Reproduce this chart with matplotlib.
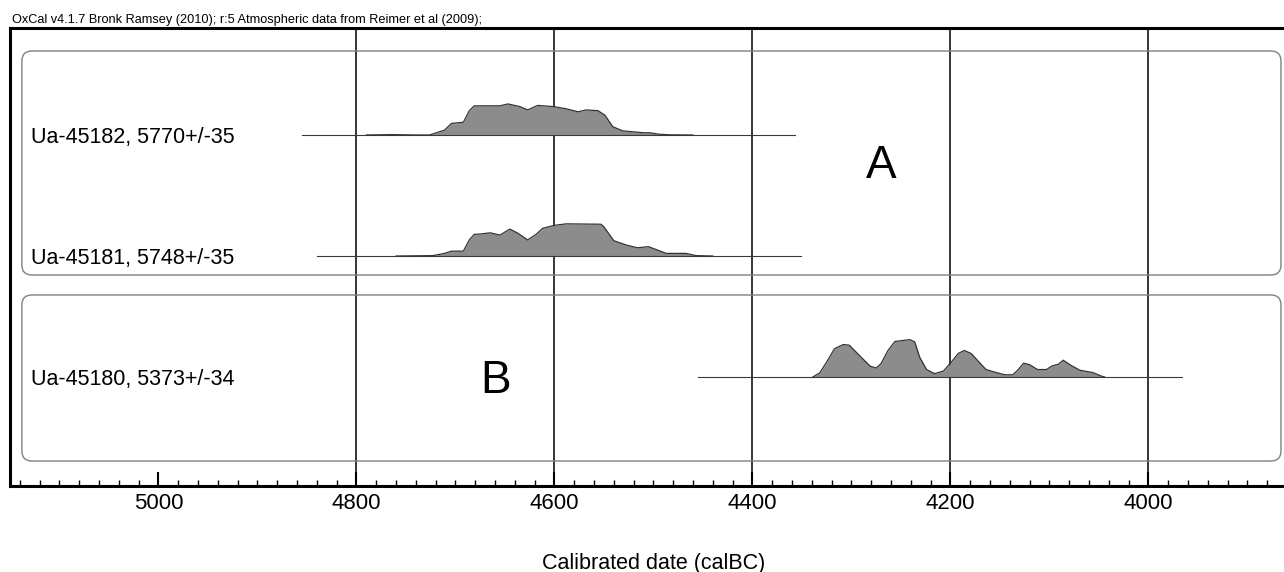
import numpy as np
import matplotlib
matplotlib.use('Agg')
import matplotlib.pyplot as plt
from matplotlib.patches import FancyBboxPatch
from matplotlib.ticker import FixedLocator, MultipleLocator

plt.rcParams['font.family'] = ['Liberation Sans', 'DejaVu Sans']

# sample names and calibrated ranges (calBC)
labels = ['Ua-45182, 5770+/-35', 'Ua-45181, 5748+/-35', 'Ua-45180, 5373+/-34']
range_start = [4855, 4840, 4455]
range_end = [4357, 4351, 3966]

# probability curves (relative density)
years_45182 = [4790, 4763, 4740, 4726, 4711, 4704, 4692, 4686, 4681, 4655, 4647, 4635, 4627,
               4617, 4601, 4588, 4576, 4568, 4556, 4549, 4541, 4531, 4510, 4504, 4494, 4484, 4460]
prob_45182 = [0.0, 0.01, 0.0, 0.0, 0.13, 0.31, 0.34, 0.65, 0.78, 0.78, 0.83, 0.76, 0.67,
              0.79, 0.76, 0.70, 0.62, 0.67, 0.65, 0.53, 0.22, 0.11, 0.06, 0.06, 0.02, 0.005, 0.0]

years_45181 = [4760, 4723, 4711, 4704, 4692, 4686, 4681, 4674, 4665, 4655, 4645, 4637, 4627, 4618,
               4612, 4600, 4588, 4553, 4550, 4540, 4527, 4516, 4505, 4493, 4487, 4467, 4457, 4440]
prob_45181 = [0.0, 0.01, 0.07, 0.13, 0.13, 0.43, 0.58, 0.59, 0.62, 0.56, 0.72, 0.61, 0.43, 0.59,
              0.74, 0.82, 0.86, 0.85, 0.78, 0.41, 0.29, 0.22, 0.25, 0.13, 0.07, 0.07, 0.01, 0.0]

years_45180 = [4339, 4332, 4325, 4317, 4308, 4302, 4292, 4281, 4275, 4270, 4263, 4256, 4241, 4236,
               4231, 4224, 4216, 4207, 4199, 4192, 4186, 4179, 4170, 4164, 4155, 4145, 4137, 4132,
               4126, 4120, 4112, 4103, 4097, 4091, 4086, 4078, 4069, 4056, 4047, 4044]
prob_45180 = [0.0, 0.11, 0.40, 0.76, 0.87, 0.85, 0.58, 0.29, 0.24, 0.36, 0.71, 0.95, 1.0, 0.94,
              0.53, 0.20, 0.09, 0.16, 0.40, 0.63, 0.71, 0.63, 0.37, 0.20, 0.13, 0.06, 0.06, 0.18,
              0.37, 0.33, 0.20, 0.20, 0.30, 0.34, 0.45, 0.31, 0.18, 0.12, 0.02, 0.0]

curves = [(years_45182, prob_45182), (years_45181, prob_45181), (years_45180, prob_45180)]

# groups (boxes) and the rows they hold
group_names = ['A', 'B']
group_rows = [[0, 1], [2]]

title = 'OxCal v4.1.7 Bronk Ramsey (2010); r:5 Atmospheric data from Reimer et al (2009);'

ROW_SCALE = 0.309

fig = plt.figure(figsize=(12.84, 5.72), dpi=100)
ax = fig.add_axes([10 / 1284, 86.3 / 572, 1286.8 / 1284, 457.7 / 572])

ax.set_xlim(5150, 3850)
ax.set_ylim(2.898, -0.884)

# vertical grid at major ticks
for yr in range(4800, 3999, -200):
    ax.axvline(yr, color='black', lw=1.1, zorder=1)

for i, (yrs, p) in enumerate(curves):
    ax.plot([range_start[i], range_end[i]], [i, i], color='#3a3a3a', lw=0.8, zorder=3)
    y = i - np.array(p) * ROW_SCALE
    ax.fill_between(yrs, i, y, color='#8c8c8c', lw=0, zorder=2)
    ax.plot(yrs, y, color='#333333', lw=0.9, zorder=3)
    ax.text(5129, i + 0.066, labels[i], fontsize=15.5, ha='left', va='baseline', zorder=4)

# group boxes
box_pad_top = [0.694, 0.678]
box_pad_bot = [0.157, 0.694]
for g, rows in enumerate(group_rows):
    top = rows[0] - box_pad_top[g]
    bot = rows[-1] + box_pad_bot[g]
    box = FancyBboxPatch((3866, top), 5138 - 3866, bot - top,
                         boxstyle='round,pad=0,rounding_size=10',
                         mutation_aspect=0.99 / 121,
                         fc='none', ec='#808080', lw=1.0, zorder=2)
    ax.add_patch(box)

ax.text(4270, 0.358, group_names[0], fontsize=33, ha='center', va='baseline')
ax.text(4659, 2.135, group_names[1], fontsize=33, ha='center', va='baseline')

ax.xaxis.set_major_locator(FixedLocator(list(range(5000, 3999, -200))))
ax.xaxis.set_minor_locator(MultipleLocator(20))
ax.tick_params(axis='x', which='major', direction='in', length=10, width=1.5,
               labelsize=16, pad=5.5)
ax.tick_params(axis='x', which='minor', direction='in', length=4.5, width=1.0)
ax.set_yticks([])
for s in ['left', 'top', 'bottom']:
    ax.spines[s].set_linewidth(2.2)
ax.spines['right'].set_visible(False)

ax.set_xlabel('Calibrated date (calBC)', fontsize=15.5, labelpad=28)

fig.text(11.7 / 1284, 1 - 23.3 / 572, title, fontsize=9.2, ha='left', va='baseline')

fig.savefig('out.png', dpi=100)
